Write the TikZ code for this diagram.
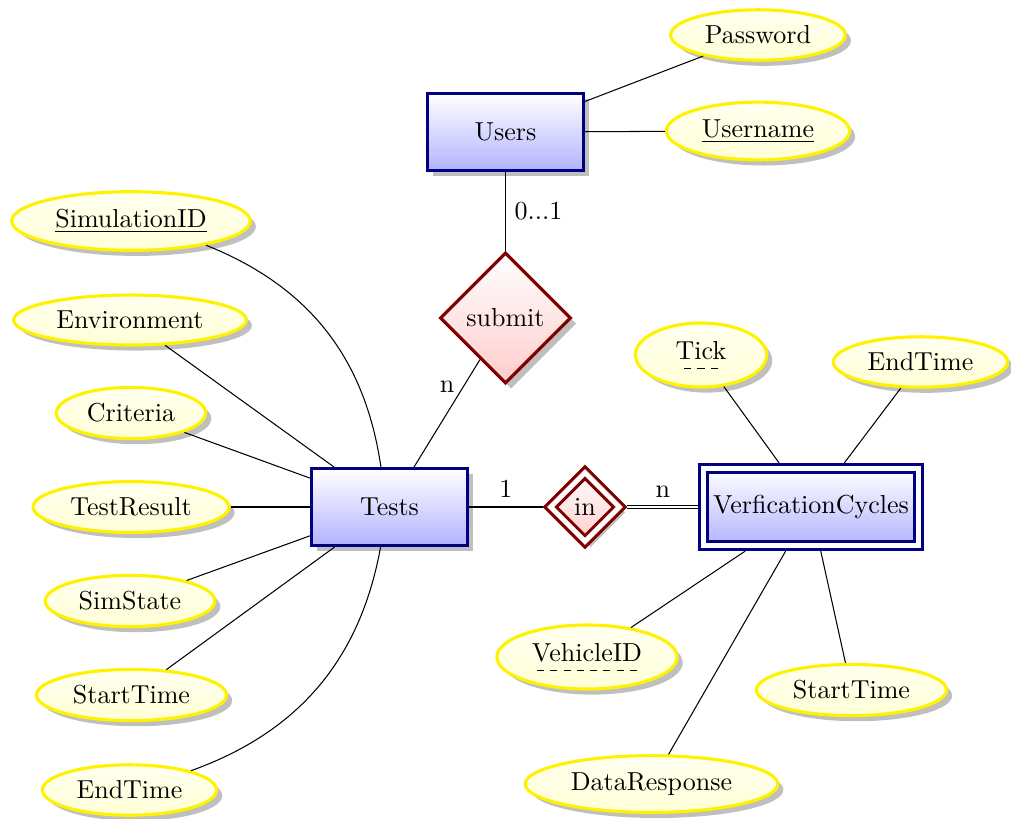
\documentclass[tikz,border=0pt]{standalone}
\usetikzlibrary{shapes.geometric,shadows}
% dashed underline for partial keys
\newcommand\dashunder[1]{\leavevmode\setbox0=\hbox{#1}%
  \rlap{\lower3.8pt\hbox to\wd0{\cleaders\hbox{\kern1.2pt\vrule height .4pt depth 0pt width 2.7pt\kern1.2pt}\hfill}}\box0}
\begin{document}
\begin{tikzpicture}[x=0.3846pt,y=-0.3846pt,
  entity/.style={rectangle, draw=blue!50!black, very thick, top color=white,
    bottom color=blue!30, drop shadow, minimum width=60pt, minimum height=29.6pt},
  weakentity/.style={rectangle, draw=blue!50!black, very thick, double,
    double distance=1.9pt, top color=white, bottom color=blue!30,
    inner sep=1pt, outer sep=2.15pt, minimum width=82.5pt, minimum height=29.6pt},
  relation/.style={diamond, aspect=1, draw=red!50!black, very thick, top color=white,
    bottom color=red!20, drop shadow, minimum width=49.5pt, minimum height=49.5pt},
  weakrelation/.style={diamond, aspect=1, draw=red!50!black, very thick, double,
    double distance=1.9pt, top color=white, bottom color=red!20, drop shadow,
    outer sep=2.15pt, minimum width=26.4pt, minimum height=26.4pt},
  attribute/.style={ellipse, draw=yellow, very thick, top color=yellow!6,
    bottom color=yellow!16, drop shadow},
  link/.style={thin, black},
  card/.style={font=\normalsize}
]
\useasboundingbox (0,0) rectangle (1011,818);

% entities and relationships
\node[entity] (users) at (505.5,132) {Users};
\node[entity] (tests) at (389.5,507) {Tests};
\node[weakentity] (vc) at (811,507) {VerficationCycles};
\node[relation] (submit) at (505.5,318) {submit};
\node[weakrelation] (inrel) at (585,507) {in};

% attributes of Users
\node[attribute] (password) at (758,35) {Password};
\node[attribute] (username) at (758,131) {\underline{Username}};

% attributes of Tests
\node[attribute] (simid) at (131,221) {\underline{SimulationID}};
\node[attribute] (env) at (130,320) {Environment};
\node[attribute] (crit) at (131,413) {Criteria};
\node[attribute] (result) at (131,507) {TestResult};
\node[attribute] (simstate) at (130,601) {SimState};
\node[attribute] (tstart) at (131.5,695) {StartTime};
\node[attribute] (tend) at (129.5,790) {EndTime};

% attributes of VerficationCycles
\node[attribute, minimum width=50.5pt] (tick) at (701,355) {\dashunder{Tick}};
\node[attribute] (vend) at (920.5,362) {EndTime};
\node[attribute] (vehicle) at (587,657) {\dashunder{VehicleID}};
\node[attribute] (vstart) at (851.5,690) {StartTime};
\node[attribute] (resp) at (651.5,784) {DataResponse};

% relationship links
\draw[link] (users) -- (password);
\draw[link] (users) -- (username);
\draw[link] (users) -- node[card, right] {0...1} (submit);
\draw[link] (submit) -- node[card, pos=.25, left] {n} (tests);
\draw[link] (tests) -- node[card, above] {1} (inrel);
\draw[link, line width=0.5pt, double, double distance=0.8pt] (inrel) -- node[card, above] {n} (vc);

% attribute links of Tests
\draw[link] (tests) to[bend right] (simid);
\draw[link] (tests) -- (env);
\draw[link] (tests) -- (crit);
\draw[link] (tests) -- (result);
\draw[link] (tests) -- (simstate);
\draw[link] (tests) -- (tstart);
\draw[link] (tests) to[bend left] (tend);

% attribute links of VerficationCycles
\draw[link] (vc) -- (tick);
\draw[link] (vc) -- (vend);
\draw[link] (vc) -- (vehicle);
\draw[link] (vc) -- (vstart);
\draw[link] (vc) -- (resp);
\end{tikzpicture}
\end{document}
